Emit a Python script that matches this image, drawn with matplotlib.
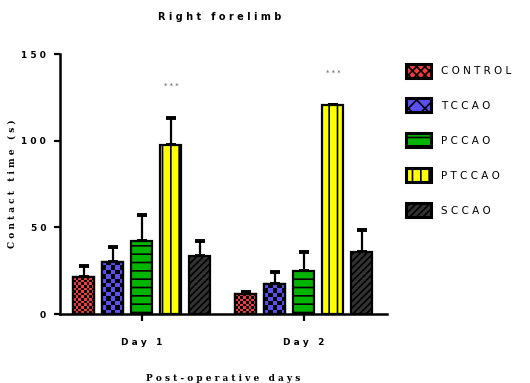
import numpy as np
import matplotlib.pyplot as plt
from matplotlib.patches import Patch
from matplotlib.colors import ListedColormap

# ------------------------------------------------------------------------------
# Daten
days = ['Day 1', 'Day 2']
groups = ['CONTROL', 'TCCAO', 'PCCAO', 'PTCCAO', 'SCCAO']
means = {
    'CONTROL': [21.3, 11.5],
    'TCCAO':   [30.0, 17.3],
    'PCCAO':   [42.0, 24.8],
    'PTCCAO':  [97.5, 120.6],
    'SCCAO':   [33.5, 35.8],
}
sem = {
    'CONTROL': [6.4, 1.2],
    'TCCAO':   [8.7, 6.7],
    'PCCAO':   [15.0, 11.0],
    'PTCCAO':  [15.5, 0.0],
    'SCCAO':   [8.5, 12.7],
}
yticks = [0, 50, 100, 150]

colors = ['#f03c3c', '#5a50f0', '#00b400', '#ffff00', '#333333']
hatches = ['', '', '--', '||', '/////']
legend_hatches = ['xxxx', 'xx', '--', '||', '/////']
# Schachbrettmuster: Kantenlaenge einer Zelle in Pixel (0 = keins)
checker = [2.6, 4.2, 0, 0, 0]


def spaced(s):
    return ' '.join(s)


plt.rcParams['hatch.linewidth'] = 1.2
fig = plt.figure(figsize=(5.3, 3.83), dpi=100)
ax = fig.add_axes([0.113, 0.18, 0.617, 0.679])
ax.set_xlim(-0.506, 1.512)
ax.set_ylim(0, 150)

x = np.arange(len(days))
w = 0.13
step = 0.179
px_per_y = 0.679 * 383 / 150.0
px_per_x = 0.617 * 530 / (1.512 + 0.506)
for i, g in enumerate(groups):
    pos = x + (i - 2) * step
    bars = ax.bar(pos, means[g], width=w, color=colors[i], edgecolor='black',
                  linewidth=1.6, hatch=hatches[i], zorder=2)
    if checker[i]:
        cmap = ListedColormap([colors[i], 'black'])
        for b in bars:
            bx, by = b.get_x(), b.get_y()
            bw, bh = b.get_width(), b.get_height()
            nc = max(1, int(round(bw * px_per_x / checker[i])))
            nr = max(1, int(round(bh * px_per_y / checker[i])))
            cb = np.indices((nr, nc)).sum(axis=0) % 2
            im = ax.imshow(cb, cmap=cmap, extent=(bx, bx + bw, by, by + bh),
                           aspect='auto', interpolation='nearest', zorder=2.1)
            im.set_clip_path(b)
            # Rand erneut ueber dem Muster
            ax.bar(b.get_x() + bw / 2, bh, width=bw, fill=False,
                   edgecolor='black', linewidth=1.6, zorder=2.2)
    ax.errorbar(pos, means[g], yerr=[np.zeros(2), sem[g]], fmt='none',
                ecolor='black', elinewidth=1.6, capsize=3.5, capthick=2.8,
                zorder=1)

# Signifikanz
for d in range(len(days)):
    top = means['PTCCAO'][d] + sem['PTCCAO'][d]
    ax.text(x[d] + step, top + 17, '* * *', ha='center', va='bottom',
            fontsize=5, color='#555555')

ax.set_xlim(-0.506, 1.512)
ax.set_ylim(0, 150)
ax.set_yticks(yticks)
ax.set_yticklabels([spaced(str(t)) for t in yticks], fontsize=6.5,
                   fontweight='bold')
ax.set_xticks(x)
ax.set_xticklabels([spaced(d) for d in days], fontsize=6.5, fontweight='bold')
ax.tick_params(axis='y', length=4, width=1.6, pad=6)
ax.tick_params(axis='x', length=5, width=1.6, pad=12)
for s in ['top', 'right']:
    ax.spines[s].set_visible(False)
for s in ['left', 'bottom']:
    ax.spines[s].set_linewidth(1.8)

ax.set_ylabel('C o n t a c t   t i m e   ( s )', family='serif',
              fontweight='bold', fontsize=6.5, va='center')
ax.yaxis.set_label_coords(-0.147, 0.5)
ax.set_xlabel('P o s t - o p e r a t i v e   d a y s', family='serif',
              fontweight='bold', fontsize=6.5, labelpad=20)
fig.text(0.415, 0.955, 'R i g h t   f o r e l i m b', ha='center',
         va='center', fontsize=7, fontweight='bold')

handles = [Patch(facecolor=colors[i], edgecolor='black', linewidth=2.2,
                 hatch=legend_hatches[i]) for i in range(len(groups))]
fig.legend(handles, [spaced(g) for g in groups], loc='upper left',
           bbox_to_anchor=(0.758, 0.845), frameon=False, fontsize=7.5,
           handlelength=2.4, handleheight=1.7, labelspacing=2.0,
           handletextpad=1.0, borderaxespad=0)

fig.savefig('out.png', dpi=100)
